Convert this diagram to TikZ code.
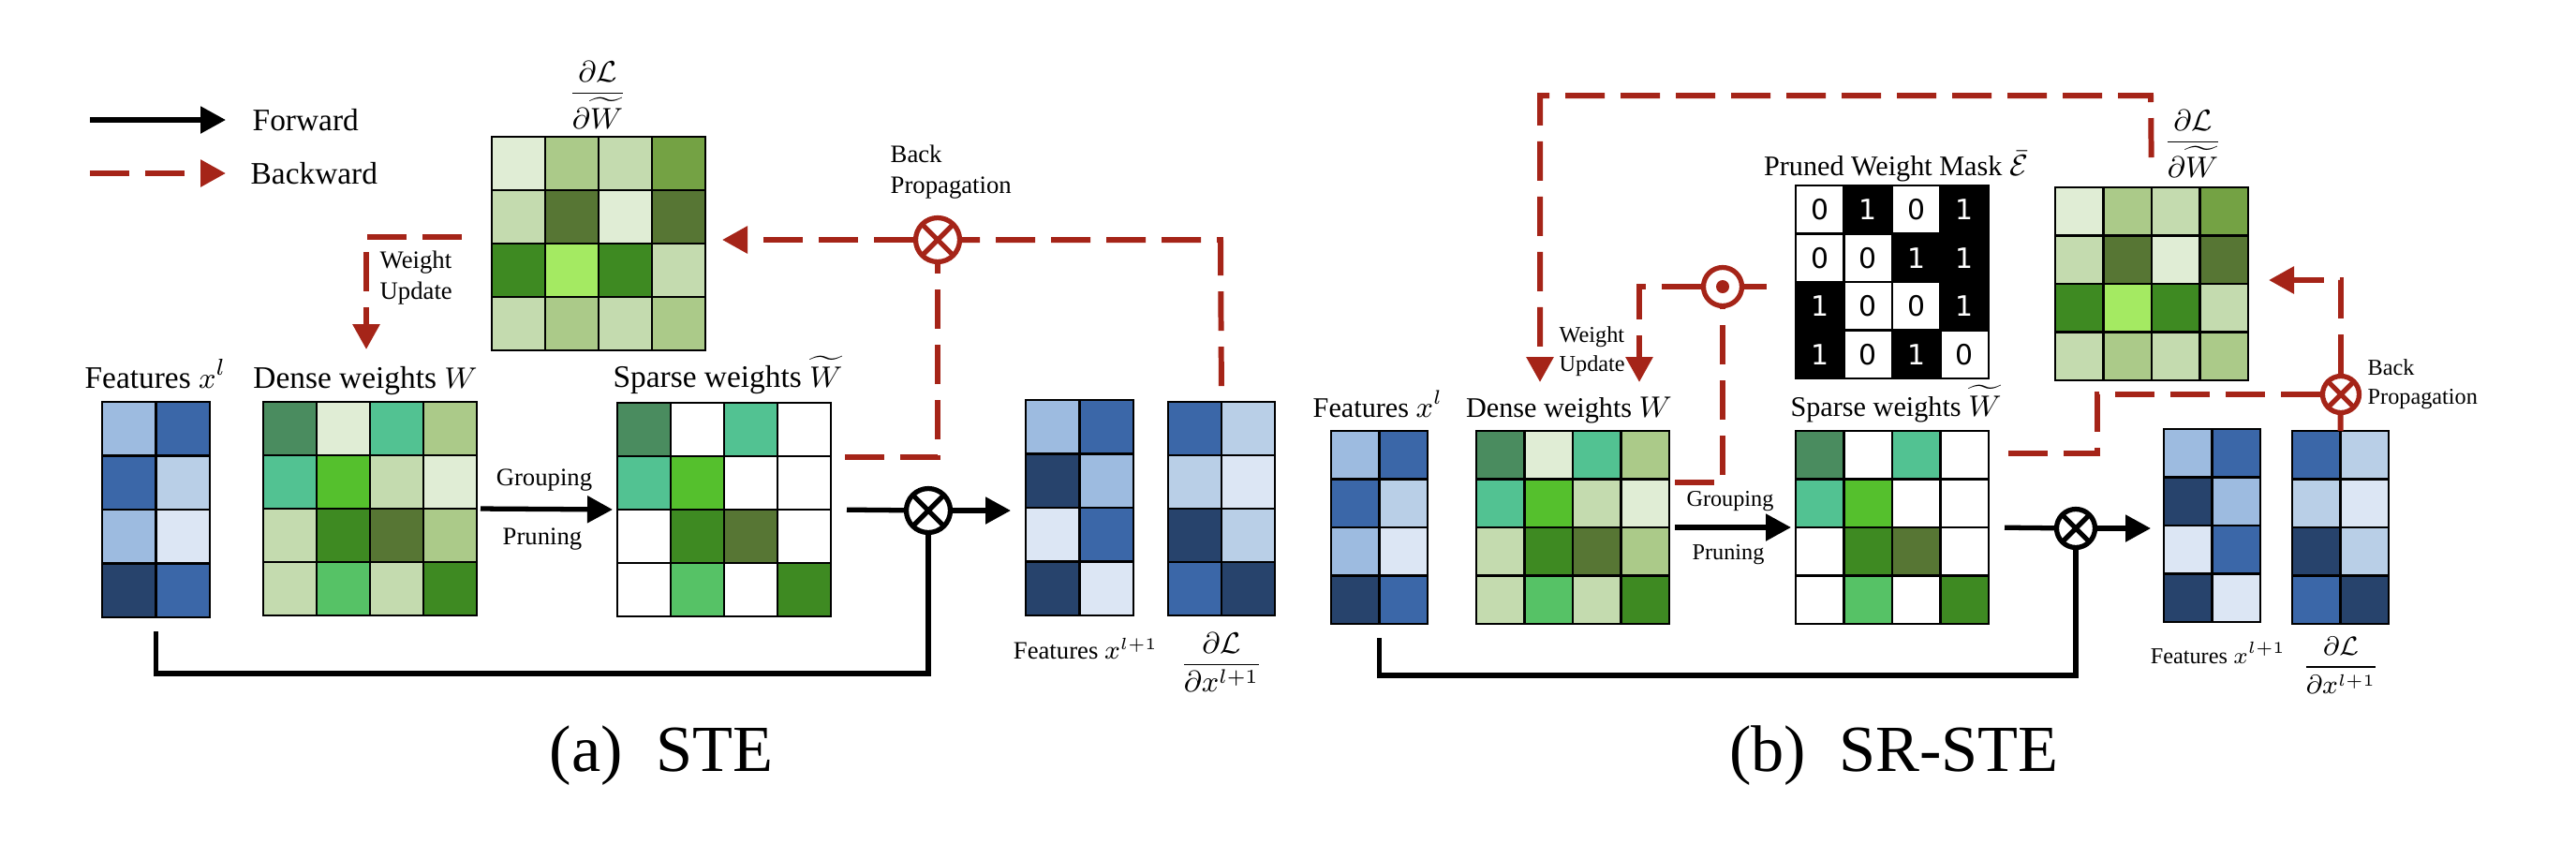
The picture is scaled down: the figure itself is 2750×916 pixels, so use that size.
\documentclass[tikz,border=0pt]{standalone}
\usepackage[no-math]{fontspec}
\setmainfont{Liberation Serif}
\newfontfamily\maskfont{DejaVu Sans}
\usetikzlibrary{arrows.meta,positioning}

\definecolor{bpred}{HTML}{A52418}
% blues
\definecolor{bA}{HTML}{9DBBE0}
\definecolor{bB}{HTML}{3B67A8}
\definecolor{bC}{HTML}{B9CFE7}
\definecolor{bD}{HTML}{DCE6F4}
\definecolor{bE}{HTML}{27436C}
% greens
\definecolor{gA}{HTML}{4A8C5F}
\definecolor{gB}{HTML}{E0EDD5}
\definecolor{gC}{HTML}{52C292}
\definecolor{gD}{HTML}{ABCA89}
\definecolor{gE}{HTML}{C4DBAF}
\definecolor{gF}{HTML}{55C02D}
\definecolor{gG}{HTML}{3E8A22}
\definecolor{gH}{HTML}{577634}
\definecolor{gI}{HTML}{56C266}
\definecolor{gJ}{HTML}{A4EA62}
\definecolor{gK}{HTML}{74A244}

% name, left, top, cell, columns, colours row by row
\newcommand{\cellgrid}[6]{%
\foreach \cl [count=\i from 0] in {#6} {
\pgfmathtruncatemacro\gc{mod(\i,#5)}
\pgfmathtruncatemacro\gr{div(\i,#5)}
\filldraw[fill=\cl, draw=black, line width=0.8pt] (#2+\gc*#4,#3+\gr*#4) rectangle ++(#4,#4);
}
\pgfmathsetmacro\gw{#5*#4*0.284528}
\pgfmathsetmacro\gh{4*#4*0.284528}
\node[inner sep=0, outer sep=0, minimum width=\gw pt, minimum height=\gh pt, anchor=north west] (#1) at (#2,#3) {};
}

\begin{document}
\begin{tikzpicture}[x=0.1mm,y=-0.1mm,
fwdline/.style={line width=1.5pt},
fwd/.style={line width=1.5pt,-{Triangle[length=2.7mm,width=2.8mm]}},
bwd/.style={bpred,line width=1.7pt,dash pattern=on 4.2mm off 1.7mm},
bwdtip/.style={bwd,-{Triangle[length=2.7mm,width=2.8mm]}},
otimes/.style={circle,draw=#1,line width=1.5pt,inner sep=0,
path picture={\draw[#1,line width=1.5pt] (path picture bounding box.north west) -- (path picture bounding box.south east)
(path picture bounding box.north east) -- (path picture bounding box.south west);}},
otimes/.default=black,
labL/.style={inner sep=0,font=\fontsize{9.5}{11.4}\selectfont},
labR/.style={inner sep=0,font=\fontsize{8.6}{10.3}\selectfont},
noteL/.style={inner sep=0,font=\fontsize{7.6}{9.4}\selectfont},
noteR/.style={inner sep=0,font=\fontsize{6.9}{8.8}\selectfont},
capfont/.style={inner sep=0,font=\fontsize{20}{24}\selectfont},
maskdigit/.style={inner sep=0,font={\maskfont\fontsize{8.5}{10}\selectfont}}]
\useasboundingbox (0,0) rectangle (2750,916);

%%%% legend
\coordinate (lgF1) at (96,128);
\coordinate (lgF2) at (241,128);
\draw[fwd] (lgF1) -- (lgF2);
\node[labL,anchor=west] (lgFt) at (269,128) {Forward};
\coordinate (lgB1) at (96,185);
\coordinate (lgB2) at (241,185);
\draw[bwdtip] (lgB1) -- (lgB2);
\node[labL,anchor=west] (lgBt) at (267,185) {Backward};

%%%% (a) STE
\cellgrid{featL}{109}{429}{57.5}{2}{bA,bB,bB,bC,bA,bD,bE,bB}
\cellgrid{denseL}{281}{429}{57}{4}{gA,gB,gC,gD,gC,gF,gE,gB,gE,gG,gH,gD,gE,gI,gE,gG}
\cellgrid{sparseL}{659}{430}{57}{4}{gA,white,gC,white,gC,gF,white,white,white,gG,gH,white,white,gI,white,gG}
\cellgrid{gradWL}{525}{146}{57}{4}{gB,gD,gE,gK,gE,gH,gB,gH,gG,gJ,gG,gE,gE,gD,gE,gD}
\cellgrid{featoutL}{1095}{427}{57.5}{2}{bA,bB,bE,bA,bD,bB,bE,bD}
\cellgrid{gradxL}{1247}{429}{57}{2}{bB,bC,bC,bD,bE,bC,bB,bE}

\node[labL,anchor=base] (featLt) at (166,414) {Features $x^l$};
\node[labL,anchor=base] (denseLt) at (390,414) {Dense weights $W$};
\node[labL,anchor=base] (sparseLt) at (777,413) {Sparse weights $\widetilde{W}$};
\node[labL,anchor=south] (gradWLt) at (638,138) {$\displaystyle\frac{\partial\mathcal{L}}{\partial\widetilde{W}}$};
\node[noteL] (grpL) at (581,513) {Grouping};
\node[noteL] (prnL) at (579,576) {Pruning};
\node[noteL,anchor=base] (foLt) at (1159,703) {Features $x^{l+1}$};
\node[noteL,font=\fontsize{8.6}{10}\selectfont] (gxLt) at (1304,707) {$\displaystyle\frac{\partial\mathcal{L}}{\partial x^{l+1}}$};
\node[noteL,anchor=west,align=left] (wuLt) at (405,297) {Weight\\Update};
\node[noteL,anchor=west,align=left] (bpLt) at (950,184) {Back\\Propagation};

% forward
\node[otimes,minimum size=4.7mm] (otL) at (991,545) {};
\draw[fwd,shorten <=0.4mm,shorten >=0.5mm] (denseL.east) -- (sparseL.west);
\draw[fwdline,shorten <=1.7mm] (sparseL.east) -- (otL);
\draw[fwd,shorten >=1.6mm] (otL) -- (otL -| featoutL.west);
\coordinate (skipL) at (991,719);
\draw[fwdline,shorten <=1.5mm] (featL.south) -- (featL.south |- skipL) -- (skipL) -- (otL);

% backward
\node[otimes=bpred,minimum size=4.7mm] (bpL) at (1001,256) {};
\coordinate (bpLc) at (1303,256);
\draw[bwd,shorten <=1.7mm] (gradxL.north) -- (bpLc) -- (bpL);
\draw[bwdtip,shorten >=1.8mm] (bpL) -- (bpL -| gradWL.east);
\coordinate (spLc) at (1001,488);
\draw[bwd,shorten <=1.5mm] (sparseL.east |- spLc) -- (spLc) -- (bpL);
\coordinate (wuL) at (391,253);
\draw[bwdtip,shorten <=3.2mm,shorten >=5.6mm] (gradWL.west |- wuL) -- (wuL) -- (wuL |- denseL.north);

\node[capfont] (capA) at (706,807) {(a)\enspace STE};

%%%% (b) SR-STE
\cellgrid{featR}{1421}{460}{51.5}{2}{bA,bB,bB,bC,bA,bD,bE,bB}
\cellgrid{denseR}{1576}{460}{51.5}{4}{gA,gB,gC,gD,gC,gF,gE,gB,gE,gG,gH,gD,gE,gI,gE,gG}
\cellgrid{sparseR}{1917}{460}{51.5}{4}{gA,white,gC,white,gC,gF,white,white,white,gG,gH,white,white,gI,white,gG}
\cellgrid{gradWR}{2194}{200}{51.5}{4}{gB,gD,gE,gK,gE,gH,gB,gH,gG,gJ,gG,gE,gE,gD,gE,gD}
\cellgrid{featoutR}{2310}{458}{51.5}{2}{bA,bB,bE,bA,bD,bB,bE,bD}
\cellgrid{gradxR}{2447}{460}{51.5}{2}{bB,bC,bC,bD,bE,bC,bB,bE}

% pruned weight mask
\foreach \d [count=\i from 0] in {0,1,0,1,0,0,1,1,1,0,0,1,1,0,1,0} {
\pgfmathtruncatemacro\gc{mod(\i,4)}
\pgfmathtruncatemacro\gr{div(\i,4)}
\ifnum\d=1 \def\bg{black}\def\fg{white}\else\def\bg{white}\def\fg{black}\fi
\filldraw[fill=\bg,draw=black,line width=0.8pt] (1917+\gc*51.5,198+\gr*51.5) rectangle ++(51.5,51.5);
\node[maskdigit,text=\fg] (m\i) at (1942.75+\gc*51.5,223.75+\gr*51.5) {\d};
}
\node[inner sep=0,outer sep=0,minimum width=58.6pt,minimum height=58.6pt,anchor=north west] (maskR) at (1917,198) {};

\node[labR,anchor=base] (featRt) at (1471,445) {Features $x^l$};
\node[labR,anchor=base] (denseRt) at (1675,445) {Dense weights $W$};
\node[labR,anchor=base] (sparseRt) at (2024,444) {Sparse weights $\widetilde{W}$};
\node[labR,anchor=base] (maskRt) at (2024,187) {Pruned Weight Mask $\bar{\mathcal{E}}$};
\node[labR,anchor=south] (gradWRt) at (2341,190) {$\displaystyle\frac{\partial\mathcal{L}}{\partial\widetilde{W}}$};
\node[noteR] (grpR) at (1847,535) {Grouping};
\node[noteR] (prnR) at (1845,592) {Pruning};
\node[noteR,anchor=base] (foRt) at (2368,708) {Features $x^{l+1}$};
\node[noteR,font=\fontsize{7.8}{9}\selectfont] (gxRt) at (2499,710) {$\displaystyle\frac{\partial\mathcal{L}}{\partial x^{l+1}}$};
\node[noteR,anchor=west,align=left] (wuRt) at (1664,375) {Weight\\Update};
\node[noteR,anchor=west,align=left] (bpRt) at (2527,410) {Back\\Propagation};

% forward
\node[otimes,minimum size=4.1mm] (otR) at (2216,564) {};
\draw[fwd,shorten <=0.6mm,shorten >=0.5mm] (denseR.east) -- (sparseR.west);
\draw[fwdline,shorten <=1.7mm] (sparseR.east) -- (otR);
\draw[fwd,shorten >=1.4mm] (otR) -- (otR -| featoutR.west);
\coordinate (skipR) at (2216,721);
\draw[fwdline,shorten <=1.5mm] (featR.south) -- (featR.south |- skipR) -- (skipR) -- (otR);

% backward
\node[circle,draw=bpred,line width=1.5pt,inner sep=0,minimum size=4.1mm] (odR) at (1839,306) {};
\fill[bpred] (odR) circle[radius=7];
\coordinate (odRc) at (1839,515);
\draw[bwd,shorten <=0.6mm] (denseR.east |- odRc) -- (odRc) -- (odR);
\coordinate (wuR) at (1750,306);
\draw[bwdtip,shorten >=5.2mm] (odR) -- (wuR) -- (wuR |- denseR.north);
\draw[bwd,shorten >=3.1mm] (odR) -- (odR -| maskR.west);
\coordinate (topR1) at (2296,102);
\coordinate (topR2) at (1644,102);
\draw[bwdtip,shorten <=3.2mm,shorten >=5.2mm] (gradWR.north) -- (topR1) -- (topR2) -- (topR2 |- denseR.north);

\node[otimes=bpred,minimum size=3.9mm] (bpR) at (2499,421) {};
\draw[bwd] (gradxR.north) -- (bpR);
\coordinate (bpRc) at (2499,299);
\draw[bwdtip,shorten >=2.2mm] (bpR) -- (bpRc) -- (bpRc -| gradWR.east);
\coordinate (spRc) at (2239,421);
\coordinate (spRd) at (2239,484);
\draw[bwd,shorten >=0.9mm] (bpR) -- (spRc) -- (spRd) -- (spRd -| sparseR.east);

\node[capfont] (capB) at (2022,807) {(b)\enspace SR-STE};
\end{tikzpicture}
\end{document}
